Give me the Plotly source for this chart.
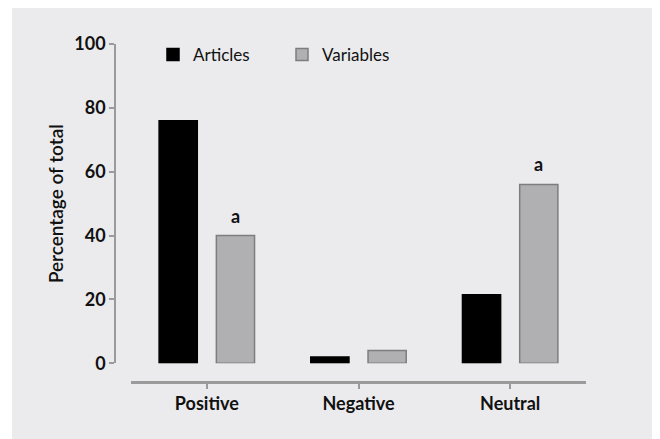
import plotly.graph_objects as go

categories = ["Positive", "Negative", "Neutral"]
articles = [76, 2, 21.5]
variables = [40, 4, 56]
variable_marks = ["a", "", "a"]
y_ticks = [0, 20, 40, 60, 80, 100]

W, H = 660, 439
OFF = 8  # page body margin compensation (screen px = figure px + OFF)
FONT = "Lato"
AXIS_GREY = "#9a9a9a"


def px_x(p):
    return (p - OFF) / W


def px_y(p):
    return (H - (p - OFF)) / H


fig = go.Figure()
fig.add_trace(go.Bar(
    name="Articles", x=categories, y=articles,
    marker=dict(color="#000000", line=dict(color="#000000", width=1.5)),
))
fig.add_trace(go.Bar(
    name="Variables", x=categories, y=variables,
    marker=dict(color="#b0b0b2", line=dict(color="#7d7d7f", width=1.5)),
))

for cat, val, mark in zip(categories, variables, variable_marks):
    if mark:
        fig.add_annotation(x=cat, y=val, xref="x", yref="y", text="<b>%s</b>" % mark,
                           showarrow=False, xshift=28.5, yshift=20,
                           font=dict(family=FONT, size=18, color="#111111"))

fig.add_shape(type="rect", xref="paper", yref="paper",
              x0=px_x(12), x1=px_x(655), y0=0, y1=px_y(5),
              fillcolor="#ebebed", line=dict(width=0), layer="below")

fig.update_layout(
    width=W, height=H,
    margin=dict(l=0, r=0, t=0, b=0, pad=0, autoexpand=False),
    paper_bgcolor="#ffffff", plot_bgcolor="rgba(0,0,0,0)",
    barmode="group", bargap=0.245, bargroupgap=0.333,
    font=dict(family=FONT, size=16, color="#111111"),
    showlegend=True,
    legend=dict(orientation="h", x=px_x(153), xanchor="left", y=px_y(55), yanchor="middle",
                bgcolor="rgba(0,0,0,0)", font=dict(family=FONT, size=17, color="#111111"),
                entrywidth=84, entrywidthmode="pixels"),
    xaxis=dict(domain=[px_x(131), px_x(586)], range=[-0.5, 2.5], anchor="free", automargin=False,
               position=px_y(382), showline=True, linecolor=AXIS_GREY, linewidth=2.5,
               ticks="outside", ticklen=5, tickcolor=AXIS_GREY, tickwidth=1.5,
               tickfont=dict(family=FONT, size=18, color="#111111", weight="bold"),
               showgrid=False, zeroline=False, fixedrange=True),
    yaxis=dict(domain=[px_y(363.3), px_y(44)], range=[0, 100], anchor="free",
               automargin=False,
               position=px_x(115), showline=True, linecolor=AXIS_GREY, linewidth=1.5,
               ticks="outside", ticklen=5, tickcolor=AXIS_GREY, tickwidth=1.5,
               tickvals=y_ticks, ticktext=[str(v) for v in y_ticks],
               tickfont=dict(family=FONT, size=18, color="#111111", weight="bold"),
               title=dict(text="Percentage of total", standoff=5,
                          font=dict(family=FONT, size=19, color="#111111", weight=600)),
               showgrid=False, zeroline=False, fixedrange=True),
)

fig.write_html("out.html")
